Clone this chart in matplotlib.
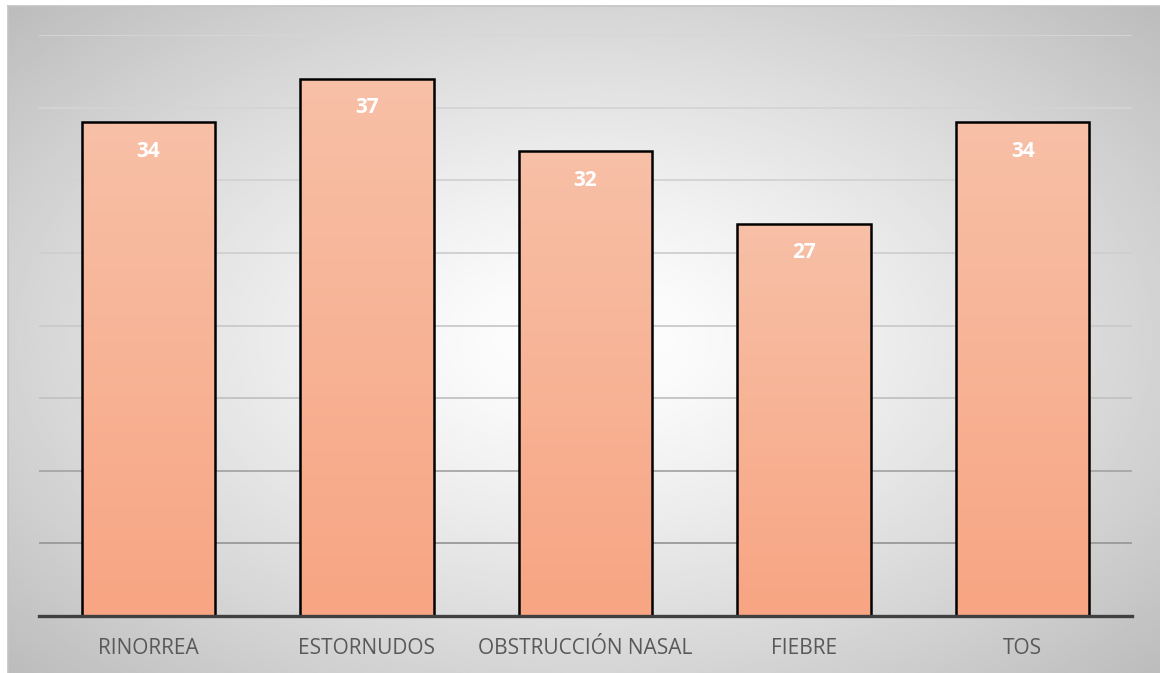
import numpy as np
import matplotlib
matplotlib.use('Agg')
import matplotlib.pyplot as plt
from matplotlib.colors import LinearSegmentedColormap

# datos
categorias = ['RINORREA', 'ESTORNUDOS', 'OBSTRUCCIÓN NASAL', 'FIEBRE', 'TOS']
valores = [34, 37, 32, 27, 34]
y_ticks = [0, 5, 10, 15, 20, 25, 30, 35, 40]

plt.rcParams['font.family'] = ['Open Sans', 'DejaVu Sans']

W, H = 1160, 673
fig = plt.figure(figsize=(W / 100, H / 100), dpi=100)

# fondo con degradado radial
bg = fig.add_axes([8 / W, 0, 1 - 8 / W, 1 - 6 / H])
gx, gy = np.meshgrid(np.linspace(0, 1, 400), np.linspace(0, 1, 300))
r = np.sqrt(((gx - 0.5) / 0.6) ** 2 + ((gy - 0.5) / 0.62) ** 2) / 1.2
r = np.clip(r, 0, 1)
gris = (255 - 70 * r ** 1.3) / 255
bg.imshow(gris, cmap='gray', vmin=0, vmax=1, extent=(0, 1, 0, 1),
          aspect='auto', origin='upper', interpolation='bilinear')
bg.set_xticks([]), bg.set_yticks([])
for s in ['right', 'bottom']:
    bg.spines[s].set_visible(False)
for s in ['top', 'left']:
    bg.spines[s].set_color('#c4c4c4')
    bg.spines[s].set_linewidth(1.2)

ax = fig.add_axes([39 / W, 1 - 616 / H, (1132 - 39) / W, (616 - 35) / H])
ax.patch.set_alpha(0)

x = np.arange(len(categorias))
barras = ax.bar(x, valores, width=0.61, facecolor='none', edgecolor='black',
                linewidth=1.8, zorder=3)

cmap_barra = LinearSegmentedColormap.from_list('barra', ['#f7a583', '#f8c0a7'])
grad = np.linspace(0, 1, 256).reshape(-1, 1)
for b in barras:
    x0, w, h = b.get_x(), b.get_width(), b.get_height()
    im = ax.imshow(grad, cmap=cmap_barra, extent=(x0, x0 + w, 0, h),
                   origin='lower', aspect='auto', zorder=2)
    im.set_clip_path(b)
    ax.annotate(str(int(h)), (b.get_x() + w / 2, h), xytext=(0, -21),
                textcoords='offset points', ha='center', va='center',
                color='white', fontsize=15, fontweight='bold', zorder=4)

ax.set_xlim(-0.5, len(categorias) - 0.5)
ax.set_ylim(0, 40)
ax.set_yticks(y_ticks)
ax.tick_params(axis='y', left=False, labelleft=False)
ax.set_xticks(x)
ax.set_xticklabels(categorias, fontsize=15, color='#595959')
ax.tick_params(axis='x', length=0, pad=16)

ax.grid(axis='y', linewidth=1.3, zorder=1)
colores_grid = ['#808080', '#999999', '#a6a6a6', '#c2c2c2', '#cacaca',
                '#cfcfcf', '#d2d2d2', '#d4d4d4', '#d6d6d6']
for gl, c in zip(ax.yaxis.get_gridlines(), colores_grid):
    gl.set_color(c)

for s in ['top', 'right', 'left']:
    ax.spines[s].set_visible(False)
ax.spines['bottom'].set_color('#404040')
ax.spines['bottom'].set_linewidth(2.4)
ax.spines['bottom'].set_zorder(5)

fig.savefig('out.png', dpi=100)
